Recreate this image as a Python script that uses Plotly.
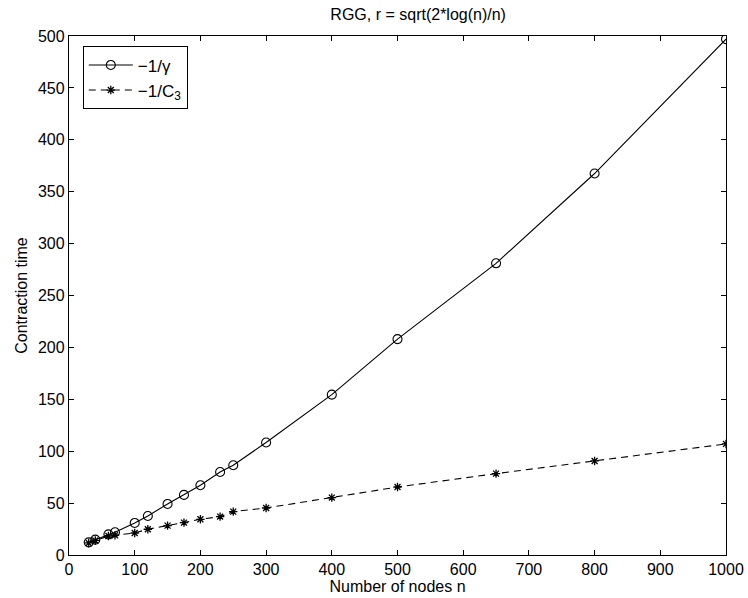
import plotly.graph_objects as go

n_nodes = [30, 40, 60, 70, 100, 120, 150, 175, 200, 230, 250, 300, 400, 500, 650, 800, 1000]
gamma_time = [12.2, 14.8, 19.9, 21.9, 30.9, 37.6, 49.2, 57.9, 67.2, 80.0, 86.5, 108.4, 154.5, 208.0, 281.0, 367.5, 497.0]
c3_time = [11.6, 14.0, 18.3, 19.0, 21.2, 24.8, 28.3, 31.2, 34.4, 37.0, 41.8, 45.3, 55.3, 65.5, 78.4, 90.6, 107.0]

FONT = "Liberation Sans, Arial, Helvetica, sans-serif"

fig = go.Figure()
fig.add_trace(go.Scatter(
    x=n_nodes, y=gamma_time, mode="lines+markers", name="\u22121/\u03b3",
    line=dict(color="black", width=1.1),
    marker=dict(symbol="circle-open", size=9, color="black", line=dict(width=1.1)),
))
fig.add_trace(go.Scatter(
    x=n_nodes, y=c3_time, mode="lines+markers", name="\u22121/C<sub>3</sub>",
    line=dict(color="black", width=1.1, dash="7px,5px"),
    marker=dict(symbol="asterisk-open", size=7, color="black", line=dict(width=1.3, color="black")),
))

axis_common = dict(
    showline=True, linecolor="black", linewidth=1.3, mirror="ticks",
    ticks="inside", ticklen=5, tickcolor="black", tickwidth=1,
    showgrid=False, zeroline=False, automargin=False,
    tickfont=dict(family=FONT, size=16, color="black"),
)

fig.update_layout(
    width=748, height=598,
    margin=dict(l=69, r=22, t=36, b=43),
    paper_bgcolor="white", plot_bgcolor="white",
    title=dict(text="RGG, r = sqrt(2*log(n)/n)", x=(69 + 726) / 2 / 748, xanchor="center",
               xref="paper", y=1 - 14 / 598, yanchor="middle",
               font=dict(family=FONT, size=16, color="black")),
    xaxis=dict(range=[0, 1000], dtick=100, tick0=0,
               title=dict(text="Number of nodes n", standoff=0,
                          font=dict(family=FONT, size=16, color="black")),
               **axis_common),
    yaxis=dict(range=[0, 500], dtick=50, tick0=0,
               title=dict(text="Contraction time", standoff=6,
                          font=dict(family=FONT, size=16, color="black")),
               **axis_common),
    legend=dict(x=0.021, y=0.98, xanchor="left", yanchor="top",
                bordercolor="black", borderwidth=1, bgcolor="white",
                font=dict(family=FONT, size=17, color="black"),
                itemwidth=44, tracegroupgap=0),
    showlegend=True,
)

fig.write_html("out.html")
